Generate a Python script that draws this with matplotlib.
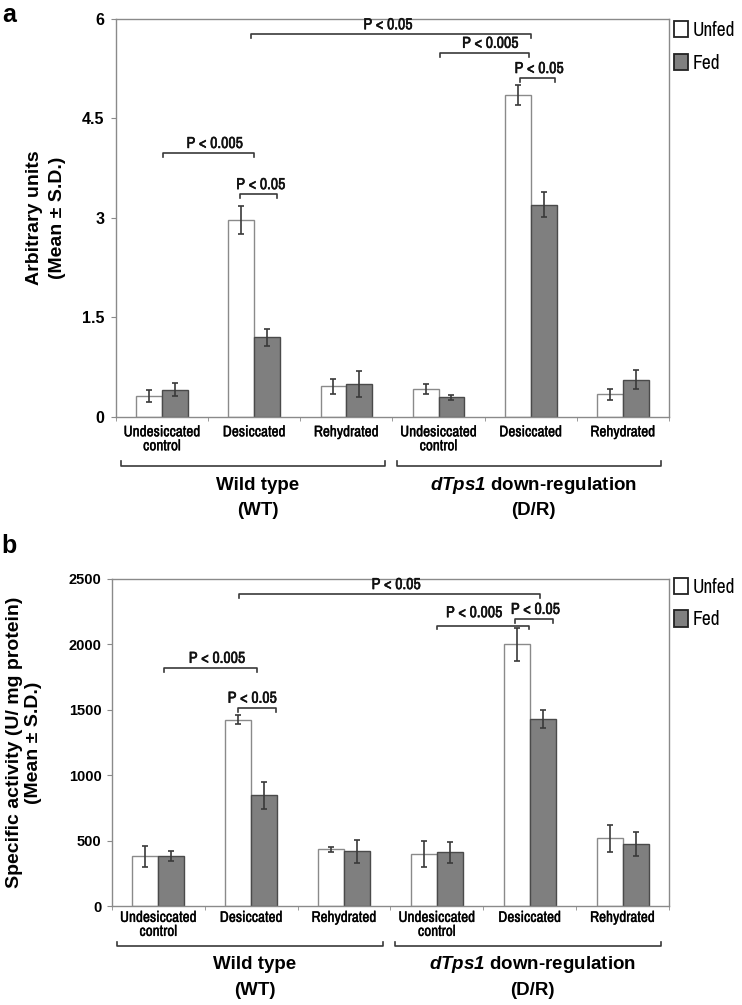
import matplotlib
matplotlib.use("Agg")
import matplotlib.pyplot as plt
import matplotlib.patheffects as pe
import numpy as np
from matplotlib.transforms import blended_transform_factory

plt.rcParams['font.family'] = ['Liberation Sans', 'DejaVu Sans']
plt.rcParams['mathtext.fontset'] = 'custom'
plt.rcParams['mathtext.rm'] = 'Liberation Sans'
plt.rcParams['mathtext.it'] = 'Liberation Sans:italic'
plt.rcParams['mathtext.bf'] = 'Liberation Sans:bold'
plt.rcParams['mathtext.bfit'] = 'Liberation Sans:italic:bold'

# first installed narrow face wins
NARROW = ['Arial Narrow', 'Liberation Sans Narrow', 'Nimbus Sans Narrow',
          'Archivo Narrow', 'Roboto Condensed', 'PT Sans Narrow',
          'IBM Plex Sans Condensed', 'Fira Sans Condensed', 'Liberation Sans',
          'DejaVu Sans']
HEAVY = [pe.withStroke(linewidth=0.35, foreground='#111111')]

# categories
conditions = ["Undesiccated\ncontrol", "Desiccated", "Rehydrated",
              "Undesiccated\ncontrol", "Desiccated", "Rehydrated"]
groups = ["Wild type", "$\\mathbfit{dTps1}$ down-regulation"]
group_abbr = ["(WT)", "(D/R)"]
series = ["Unfed", "Fed"]

# panel a: arbitrary units
a_unfed = [0.32, 2.97, 0.46, 0.42, 4.85, 0.34]
a_unfed_sd = [0.09, 0.21, 0.11, 0.075, 0.15, 0.08]
a_fed = [0.41, 1.20, 0.50, 0.295, 3.20, 0.56]
a_fed_sd = [0.10, 0.125, 0.20, 0.04, 0.19, 0.145]

# panel b: specific activity (U/mg protein)
b_unfed = [381, 1424, 432, 399, 2001, 519]
b_unfed_sd = [80, 36, 22, 100, 125, 103]
b_fed = [384, 847, 417, 412, 1429, 473]
b_fed_sd = [38, 102, 86, 80, 70, 93]

# significance brackets: (x start, x end, bracket y, text x, text y, label)
a_sig = [(0.96, 4.0, 5.775, 2.45, 5.80, "P < 0.05"),
         (3.02, 3.98, 5.49, 3.56, 5.52, "P < 0.005"),
         (3.88, 4.26, 5.105, 4.09, 5.14, "P < 0.05"),
         (0.01, 1.0, 3.98, 0.57, 4.01, "P < 0.005"),
         (0.85, 1.25, 3.355, 1.07, 3.39, "P < 0.05")]
b_sig = [(0.87, 4.11, 2385, 2.56, 2400, "P < 0.05"),
         (3.0, 3.99, 2144, 3.40, 2185, "P < 0.005"),
         (3.84, 4.25, 2195, 4.06, 2210, "P < 0.05"),
         (0.06, 1.06, 1821, 0.63, 1836, "P < 0.005"),
         (0.857, 1.264, 1516, 1.01, 1531, "P < 0.05")]

fig = plt.figure(figsize=(7.42, 10.05), dpi=100)
ax_a = fig.add_axes([0.1563, 0.5851, 0.7453, 0.3960])
ax_b = fig.add_axes([0.1509, 0.0985, 0.7507, 0.3254])

GRID = '#8a8a8a'
DARK = '#3a3a3a'
width = 0.28


def draw_panel(ax, unfed, unfed_sd, fed, fed_sd, sig, ymax, ystep, drop,
               ylabel, lab_x, lab_ls, grp_y, tick_pad, xt_pad, ytick_fs, leg_y):
    x = np.arange(len(conditions))
    ax.bar(x - width / 2, unfed, width, color='white', edgecolor=GRID,
           linewidth=1.0, label=series[0], zorder=2)
    ax.bar(x + width / 2, fed, width, color='#7f7f7f', edgecolor='#4a4a4a',
           linewidth=1.0, label=series[1], zorder=2)
    ax.errorbar(x - width / 2, unfed, yerr=unfed_sd, fmt='none', ecolor=DARK,
                elinewidth=1.2, capsize=2.5, capthick=1.2, zorder=3)
    ax.errorbar(x + width / 2, fed, yerr=fed_sd, fmt='none', ecolor=DARK,
                elinewidth=1.2, capsize=2.5, capthick=1.2, zorder=3)

    ax.set_xlim(-0.5, 5.5)
    ax.set_ylim(0, ymax)
    ticks = np.arange(0, ymax + ystep / 2, ystep)
    ax.set_yticks(ticks)
    ax.set_yticklabels([f"{v:g}" for v in ticks], fontsize=ytick_fs,
                       fontweight='bold')
    ax.set_xticks(x)
    ax.set_xticklabels(conditions, family=NARROW, fontsize=11,
                       linespacing=1.0)
    for t in ax.get_xticklabels():
        t.set_path_effects([pe.withStroke(linewidth=0.3, foreground='#222222')])
    ax.set_xticks(np.arange(-0.5, 6, 1), minor=True)
    ax.tick_params(axis='x', which='major', length=0, pad=xt_pad)
    ax.tick_params(axis='x', which='minor', length=3, color=GRID, direction='out')
    ax.tick_params(axis='y', length=3.5, color=GRID, pad=tick_pad)
    for s in ax.spines.values():
        s.set_color(GRID)
        s.set_linewidth(1.0)

    ax.set_ylabel(ylabel, fontsize=14, fontweight='bold', linespacing=lab_ls)
    ax.yaxis.set_label_coords(lab_x, 0.5)

    # significance brackets
    for x1, x2, yb, tx, ty, lab in sig:
        ax.plot([x1, x1, x2, x2], [yb - drop, yb, yb, yb - drop], color=DARK,
                linewidth=1.2, zorder=4, clip_on=False)
        ax.text(tx, ty, lab, ha='center', va='bottom', family=NARROW,
                fontsize=11.5, color='#111111', path_effects=HEAVY)

    # genotype group brackets under the axis
    tr = blended_transform_factory(ax.transData, ax.transAxes)
    spans = [(-0.45, 2.42), (2.55, 5.41)]
    for (g0, g1), name, abbr in zip(spans, groups, group_abbr):
        ax.plot([g0, g0, g1, g1], [grp_y[0] + 0.013, grp_y[0], grp_y[0], grp_y[0] + 0.013],
                color=DARK, linewidth=1.2, transform=tr, clip_on=False)
        xc = (g0 + g1) / 2 + 0.05
        ax.text(xc, grp_y[1], name, transform=tr, ha='center', va='center',
                fontsize=13.5, fontweight='bold')
        ax.text(xc, grp_y[2], abbr, transform=tr, ha='center', va='center',
                fontsize=13.5, fontweight='bold')

    leg = ax.legend(loc='upper left', bbox_to_anchor=(1.006, leg_y), frameon=False,
                    handlelength=0.7, handleheight=0.9, handletextpad=0.25,
                    labelspacing=0.7, borderaxespad=0, borderpad=0.1,
                    prop={'family': NARROW, 'size': 14})
    for h in leg.legend_handles:
        h.set_edgecolor('#222222')
        h.set_linewidth(1.3)


draw_panel(ax_a, a_unfed, a_unfed_sd, a_fed, a_fed_sd, a_sig, 6, 1.5, 0.06,
           "Arbitrary units\n(Mean ± S.D.)", -0.09, 1.5,
           (-0.123, -0.171, -0.234), 5, 6, 11.5, 1.0)
draw_panel(ax_b, b_unfed, b_unfed_sd, b_fed, b_fed_sd, b_sig, 2500, 500, 30,
           "Specific activity (U/ mg protein)\n(Mean ± S.D.)", -0.126, 1.15,
           (-0.122, -0.180, -0.257), 4, 3.5, 10.5, 1.01)

fig.text(0.003, 0.997, "a", fontsize=18, fontweight='bold', va='top')
fig.text(0.002, 0.450, "b", fontsize=18, fontweight='bold', va='baseline')

fig.savefig("out.png", dpi=100)
